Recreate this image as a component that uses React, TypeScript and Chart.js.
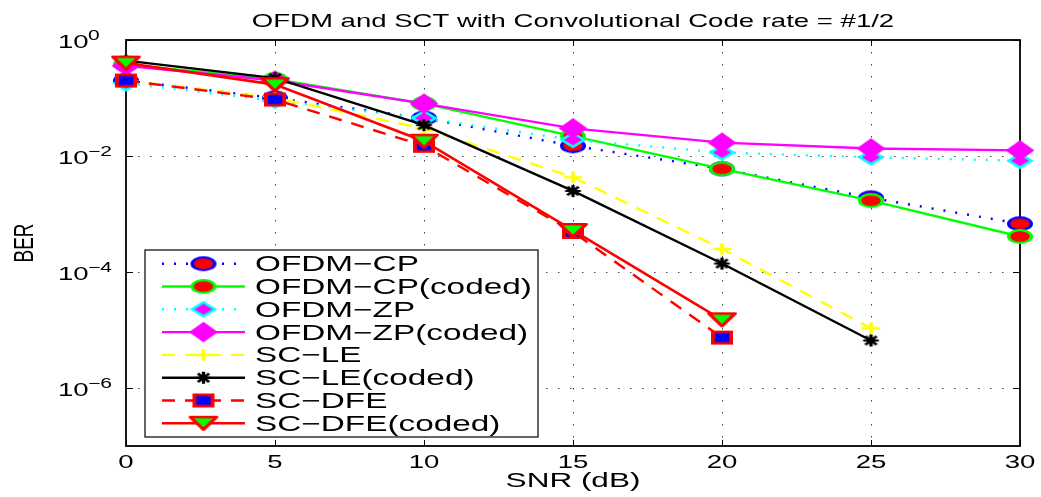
import React, { useEffect, useRef } from 'react';
import { Chart, registerables } from 'chart.js';

Chart.register(...registerables);

// ---- data ----
const snr = [0, 5, 10, 15, 20, 25, 30];
const ofdmCP = [0.2, 0.1, 0.045, 0.015, 0.006, 0.0019, 0.00068];
const ofdmCPCoded = [0.38, 0.21, 0.08, 0.022, 0.006, 0.0017, 0.00041];
const ofdmZP = [0.18, 0.09, 0.045, 0.019, 0.0115, 0.0095, 0.0083];
const ofdmZPCoded = [0.36, 0.2, 0.08, 0.03, 0.017, 0.0135, 0.0125];
const scLE = [0.2, 0.1, 0.03, 0.0043, 0.00025, 0.0000107, null];
const scLECoded = [0.44, 0.22, 0.034, 0.0025, 0.00014, 0.0000066, null];
const scDFE = [0.2, 0.094, 0.015, 0.00049, 0.0000074, null, null];
const scDFECoded = [0.4, 0.17, 0.018, 0.00052, 0.000015, null, null];

const seriesNames = [
  'OFDM−CP',
  'OFDM−CP(coded)',
  'OFDM−ZP',
  'OFDM−ZP(coded)',
  'SC−LE',
  'SC−LE(coded)',
  'SC−DFE',
  'SC−DFE(coded)',
];
const seriesValues = [ofdmCP, ofdmCPCoded, ofdmZP, ofdmZPCoded, scLE, scLECoded, scDFE, scDFECoded];

const xTickValues = [0, 5, 10, 15, 20, 25, 30];
const yTickExponents = [0, -2, -4, -6];
const titleText = 'OFDM and SCT with Convolutional Code rate = #1/2';
const xAxisTitle = 'SNR (dB)';
const yAxisTitle = 'BER';

// ---- styles ----
const FONT = '"Liberation Sans", Arial, Helvetica, sans-serif';
const MSX = 1.5; // horizontal stretch of markers

type MarkerSpec = { shape: string; w: number; h: number; stroke: string; fill: string | null; lw: number };

const styles: { color: string; dash: number[]; width: number; marker: MarkerSpec }[] = [
  { color: '#0000ff', dash: [2, 10], width: 2.4, marker: { shape: 'ellipse', w: 26, h: 15, stroke: '#0000ff', fill: '#ff0000', lw: 2.2 } },
  { color: '#00ff00', dash: [], width: 2.4, marker: { shape: 'ellipse', w: 26, h: 15, stroke: '#00ff00', fill: '#ff0000', lw: 2.2 } },
  { color: '#00ffff', dash: [2, 10], width: 2.4, marker: { shape: 'diamond', w: 26, h: 16, stroke: '#00ffff', fill: '#ff00ff', lw: 2.2 } },
  { color: '#ff00ff', dash: [], width: 2.4, marker: { shape: 'diamond', w: 28, h: 20, stroke: '#ff00ff', fill: '#ff00ff', lw: 1.5 } },
  { color: '#ffff00', dash: [13, 10], width: 2.4, marker: { shape: 'plus', w: 22, h: 14, stroke: '#ffff00', fill: null, lw: 2.4 } },
  { color: '#000000', dash: [], width: 2.4, marker: { shape: 'star', w: 19, h: 14, stroke: '#000000', fill: null, lw: 2.2 } },
  { color: '#ff0000', dash: [13, 10], width: 2.4, marker: { shape: 'rect', w: 22, h: 14, stroke: '#ff0000', fill: '#0000ff', lw: 2.5 } },
  { color: '#ff0000', dash: [], width: 2.6, marker: { shape: 'triDown', w: 30, h: 15, stroke: '#ff0000', fill: '#00ff00', lw: 2.5 } },
];

function makeMarker(m: MarkerSpec): HTMLCanvasElement {
  const pad = 3;
  const c = document.createElement('canvas');
  c.width = Math.ceil(m.w) + pad * 2;
  c.height = Math.ceil(m.h) + pad * 2;
  const ctx = c.getContext('2d')!;
  ctx.translate(c.width / 2, c.height / 2);
  ctx.scale(MSX, 1);
  const w = m.w / MSX - m.lw;
  const h = m.h - m.lw;
  ctx.lineWidth = m.lw;
  ctx.strokeStyle = m.stroke;
  ctx.lineJoin = 'miter';
  ctx.beginPath();
  switch (m.shape) {
    case 'ellipse':
      ctx.ellipse(0, 0, w / 2, h / 2, 0, 0, Math.PI * 2);
      break;
    case 'diamond':
      ctx.moveTo(0, -h / 2);
      ctx.lineTo(w / 2, 0);
      ctx.lineTo(0, h / 2);
      ctx.lineTo(-w / 2, 0);
      ctx.closePath();
      break;
    case 'rect':
      ctx.rect(-w / 2, -h / 2, w, h);
      break;
    case 'triDown':
      ctx.lineJoin = 'round';
      ctx.moveTo(-w / 2, -h / 2);
      ctx.lineTo(w / 2, -h / 2);
      ctx.lineTo(0, h / 2);
      ctx.closePath();
      break;
    case 'plus':
      ctx.moveTo(-w / 2, 0);
      ctx.lineTo(w / 2, 0);
      ctx.moveTo(0, -h / 2);
      ctx.lineTo(0, h / 2);
      break;
    case 'star':
      ctx.moveTo(-w / 2, 0);
      ctx.lineTo(w / 2, 0);
      ctx.moveTo(0, -h / 2);
      ctx.lineTo(0, h / 2);
      ctx.moveTo(-w * 0.36, -h * 0.36);
      ctx.lineTo(w * 0.36, h * 0.36);
      ctx.moveTo(w * 0.36, -h * 0.36);
      ctx.lineTo(-w * 0.36, h * 0.36);
      break;
  }
  if (m.fill) {
    ctx.fillStyle = m.fill;
    ctx.fill();
  }
  ctx.stroke();
  return c;
}

function stext(
  ctx: CanvasRenderingContext2D,
  txt: string,
  x: number,
  y: number,
  size: number,
  sx: number,
  align: CanvasTextAlign,
) {
  ctx.save();
  ctx.translate(x, y);
  ctx.scale(sx, 1);
  ctx.font = `${size}px ${FONT}`;
  ctx.textAlign = align;
  ctx.textBaseline = 'alphabetic';
  ctx.fillStyle = '#000';
  ctx.fillText(txt, 0, 0);
  ctx.restore();
}

export default function App() {
  const ref = useRef<HTMLCanvasElement | null>(null);

  useEffect(() => {
    if (!ref.current) return;
    const markers = styles.map((s) => makeMarker(s.marker));

    const datasets = seriesNames.map((name, i) => {
      const vals = seriesValues[i];
      const pts: { x: number; y: number }[] = [];
      snr.forEach((x, j) => {
        const v = vals[j];
        if (v != null) pts.push({ x, y: v });
      });
      return {
        label: name,
        data: pts,
        borderColor: styles[i].color,
        backgroundColor: styles[i].color,
        borderWidth: styles[i].width,
        borderDash: styles[i].dash,
        pointStyle: markers[i] as any,
        pointRadius: 8,
        pointHoverRadius: 8,
        tension: 0,
        clip: false as any,
        order: seriesNames.length - i,
      };
    });

    const decor = {
      id: 'matlabDecor',
      beforeDatasetsDraw(chart: any) {
        const ctx: CanvasRenderingContext2D = chart.ctx;
        const { left, right, top, bottom } = chart.chartArea;
        const xs = chart.scales.x;
        const ys = chart.scales.y;
        ctx.save();
        // grid
        ctx.strokeStyle = '#444';
        ctx.lineWidth = 1;
        ctx.setLineDash([1.5, 10.5]);
        xTickValues.forEach((v) => {
          const px = Math.round(xs.getPixelForValue(v)) + 0.5;
          if (px <= left + 1 || px >= right - 1) return;
          ctx.beginPath();
          ctx.moveTo(px, top);
          ctx.lineTo(px, bottom);
          ctx.stroke();
        });
        yTickExponents.forEach((e) => {
          const py = Math.round(ys.getPixelForValue(Math.pow(10, e))) + 0.5;
          if (py <= top + 1 || py >= bottom - 1) return;
          ctx.beginPath();
          ctx.moveTo(left, py);
          ctx.lineTo(right, py);
          ctx.stroke();
        });
        ctx.setLineDash([]);
        // tick marks
        ctx.strokeStyle = '#000';
        ctx.lineWidth = 1;
        xTickValues.forEach((v) => {
          const px = Math.round(xs.getPixelForValue(v)) + 0.5;
          ctx.beginPath();
          ctx.moveTo(px, bottom);
          ctx.lineTo(px, bottom - 6);
          ctx.moveTo(px, top);
          ctx.lineTo(px, top + 6);
          ctx.stroke();
        });
        yTickExponents.forEach((e) => {
          const py = Math.round(ys.getPixelForValue(Math.pow(10, e))) + 0.5;
          ctx.beginPath();
          ctx.moveTo(left, py);
          ctx.lineTo(left + 7, py);
          ctx.moveTo(right, py);
          ctx.lineTo(right - 7, py);
          ctx.stroke();
        });
        // box
        ctx.lineWidth = 1.8;
        ctx.strokeStyle = '#000';
        ctx.strokeRect(left, top, right - left, bottom - top);
        ctx.restore();
      },
      afterDatasetsDraw(chart: any) {
        const ctx: CanvasRenderingContext2D = chart.ctx;
        const { left, right, top, bottom } = chart.chartArea;
        const xs = chart.scales.x;
        const ys = chart.scales.y;
        const cx = (left + right) / 2;
        ctx.save();
        // title
        stext(ctx, titleText, cx, 26.5, 19, 1.45, 'center');
        // x tick labels
        xTickValues.forEach((v) => {
          stext(ctx, String(v), xs.getPixelForValue(v), 468, 19, 1.45, 'center');
        });
        // x axis title
        stext(ctx, xAxisTitle, cx, 487, 21, 1.5, 'center');
        // y tick labels
        yTickExponents.forEach((e) => {
          const py = ys.getPixelForValue(Math.pow(10, e));
          stext(ctx, '10', 58, py + 8, 19, 1.45, 'left');
          const ex = e < 0 ? '−' + String(-e) : String(e);
          stext(ctx, ex, 88, py - 0.5, 14, 1.5, 'left');
        });
        // y axis title
        ctx.save();
        ctx.translate(33, (top + bottom) / 2);
        ctx.scale(1.5, 1);
        ctx.rotate(-Math.PI / 2);
        ctx.font = `19px ${FONT}`;
        ctx.textAlign = 'center';
        ctx.textBaseline = 'alphabetic';
        ctx.fillStyle = '#000';
        ctx.fillText(yAxisTitle, 0, 0);
        ctx.restore();
        // legend
        const lx = 145, ly = 250, lw = 393, lh = 187;
        ctx.fillStyle = '#fff';
        ctx.fillRect(lx, ly, lw, lh);
        ctx.lineWidth = 1.2;
        ctx.strokeStyle = '#000';
        ctx.strokeRect(lx, ly, lw, lh);
        const rowH = 22.8;
        seriesNames.forEach((name, i) => {
          const ry = 263.7 + i * rowH;
          const st = styles[i];
          ctx.save();
          ctx.strokeStyle = st.color;
          ctx.lineWidth = st.width;
          ctx.setLineDash(st.dash);
          ctx.beginPath();
          ctx.moveTo(162, ry);
          ctx.lineTo(245, ry);
          ctx.stroke();
          ctx.restore();
          const mk = markers[i];
          ctx.drawImage(mk, 203.5 - mk.width / 2, ry - mk.height / 2);
          stext(ctx, name, 255, ry + 7.5, 21.5, 1.55, 'left');
        });
        ctx.restore();
      },
    };

    const chart = new Chart(ref.current, {
      type: 'line',
      data: { datasets: datasets as any },
      options: {
        responsive: false,
        animation: false,
        devicePixelRatio: 1,
        layout: { padding: { top: 40, right: 21, left: 0, bottom: 0 } },
        plugins: {
          legend: { display: false },
          title: { display: false },
          tooltip: { enabled: false },
        },
        events: [],
        scales: {
          x: {
            type: 'linear',
            min: 0,
            max: 30,
            ticks: { display: false, stepSize: 5 },
            grid: { display: false },
            border: { display: false },
            afterFit: (s: any) => {
              s.height = 51;
            },
          },
          y: {
            type: 'logarithmic',
            min: 1e-7,
            max: 1,
            ticks: { display: false },
            grid: { display: false },
            border: { display: false },
            afterBuildTicks: (s: any) => {
              s.ticks = yTickExponents.map((e) => ({ value: Math.pow(10, e) }));
            },
            afterFit: (s: any) => {
              s.width = 126;
            },
          },
        },
      },
      plugins: [decor as any],
    });
    return () => chart.destroy();
  }, []);

  return (
    <div style={{ position: 'absolute', left: 0, top: 0, width: 1041, height: 497, background: '#fff' }}>
      <canvas ref={ref} width={1041} height={497} style={{ display: 'block' }} />
    </div>
  );
}
